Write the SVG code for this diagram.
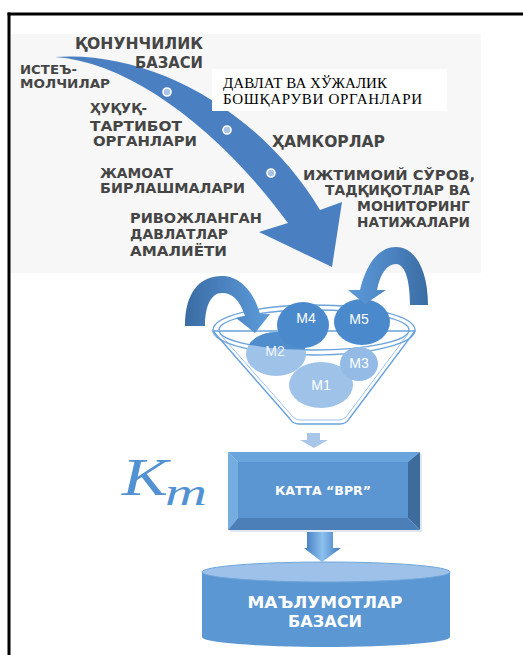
<svg xmlns="http://www.w3.org/2000/svg" width="523" height="655" viewBox="0 0 523 655">
<defs>
<style>
.lbl{font-family:"DejaVu Sans","Liberation Sans",sans-serif;font-weight:bold;fill:#454545;}
.ser{font-family:"Liberation Serif","DejaVu Serif",serif;fill:#000;font-size:15px;}
.mt{font-family:"Liberation Sans","DejaVu Sans",sans-serif;fill:#fff;font-size:14px;}
.wt{font-family:"DejaVu Sans","Liberation Sans",sans-serif;font-weight:bold;fill:#fff;}
.dot{fill:#a9c4e6;stroke:#fff;stroke-width:1.6;}
.rim{fill:none;stroke:#6aa3dc;stroke-width:1.4;}
</style>
<linearGradient id="gL" x1="0" y1="0" x2="1" y2="0">
<stop offset="0" stop-color="#3a6ca3"/><stop offset="0.45" stop-color="#4a82bf"/><stop offset="1" stop-color="#5c9cd9"/>
</linearGradient>
<linearGradient id="gR" x1="0" y1="0" x2="1" y2="0">
<stop offset="0" stop-color="#5c9cd9"/><stop offset="0.55" stop-color="#4a82bf"/><stop offset="1" stop-color="#3a6ca3"/>
</linearGradient>
<linearGradient id="gA" x1="0" y1="0" x2="1" y2="0">
<stop offset="0" stop-color="#3d78bd"/><stop offset="0.5" stop-color="#8cc0ee"/><stop offset="1" stop-color="#3d78bd"/>
</linearGradient>
<clipPath id="rimClip"><ellipse cx="314" cy="330" rx="95" ry="20"/></clipPath>
</defs>

<!-- frame -->
<g id="frame">
<rect x="11" y="34" width="470" height="239" fill="#f7f7f7"/>
<line x1="7.5" y1="14" x2="523" y2="14" stroke="#000" stroke-width="3"/>
<line x1="9" y1="12.5" x2="9" y2="655" stroke="#000" stroke-width="3"/>
</g>

<!-- connectors -->
<g id="connectors">
<path id="big-arrow" d="M55,57 C150,50 260,110 320,210 L342,202 L332,267 L259,232 L288,223 C220,130 130,62 55,57 Z" fill="#4a7fc1"/>
<circle class="dot" cx="167" cy="92" r="4"/>
<circle class="dot" cx="227" cy="130" r="4"/>
<circle class="dot" cx="271" cy="173" r="4"/>
</g>

<g id="box-davlat">
<rect x="212" y="69" width="235" height="42" fill="#fff"/>
<text class="ser" x="223" y="88" textLength="164" lengthAdjust="spacing">ДАВЛАТ ВА ХЎЖАЛИК</text>
<text class="ser" x="223" y="104" textLength="199" lengthAdjust="spacing">БОШҚАРУВИ ОРГАНЛАРИ</text>
</g>

<g id="labels">
<text class="lbl" x="75" y="49" font-size="15" textLength="128" lengthAdjust="spacingAndGlyphs">ҚОНУНЧИЛИК</text>
<text class="lbl" x="135" y="68" font-size="15" textLength="68" lengthAdjust="spacingAndGlyphs">БАЗАСИ</text>
<text class="lbl" x="20" y="74" font-size="12" textLength="57" lengthAdjust="spacingAndGlyphs">ИСТЕЪ-</text>
<text class="lbl" x="20" y="88" font-size="12" textLength="90" lengthAdjust="spacingAndGlyphs">МОЛЧИЛАР</text>
<text class="lbl" x="90" y="113" font-size="14" textLength="57" lengthAdjust="spacingAndGlyphs">ҲУҚУҚ-</text>
<text class="lbl" x="90" y="131" font-size="14" textLength="92" lengthAdjust="spacingAndGlyphs">ТАРТИБОТ</text>
<text class="lbl" x="93" y="146" font-size="14" textLength="104" lengthAdjust="spacingAndGlyphs">ОРГАНЛАРИ</text>
<text class="lbl" x="272" y="147" font-size="15" textLength="113" lengthAdjust="spacingAndGlyphs">ҲАМКОРЛАР</text>
<text class="lbl" x="100" y="178" font-size="14" textLength="73" lengthAdjust="spacingAndGlyphs">ЖАМОАТ</text>
<text class="lbl" x="100" y="193" font-size="14" textLength="145" lengthAdjust="spacingAndGlyphs">БИРЛАШМАЛАРИ</text>
<text class="lbl" x="303" y="180" font-size="14" textLength="172" lengthAdjust="spacingAndGlyphs">ИЖТИМОИЙ СЎРОВ,</text>
<text class="lbl" x="325" y="195" font-size="14" textLength="145" lengthAdjust="spacingAndGlyphs">ТАДҚИҚОТЛАР ВА</text>
<text class="lbl" x="357" y="211" font-size="14" textLength="113" lengthAdjust="spacingAndGlyphs">МОНИТОРИНГ</text>
<text class="lbl" x="357" y="227" font-size="14" textLength="113" lengthAdjust="spacingAndGlyphs">НАТИЖАЛАРИ</text>
<text class="lbl" x="130" y="223" font-size="14" textLength="132" lengthAdjust="spacingAndGlyphs">РИВОЖЛАНГАН</text>
<text class="lbl" x="130" y="239" font-size="14" textLength="98" lengthAdjust="spacingAndGlyphs">ДАВЛАТЛАР</text>
<text class="lbl" x="130" y="256" font-size="14" textLength="97" lengthAdjust="spacingAndGlyphs">АМАЛИЁТИ</text>
</g>

<g id="funnel">
<path d="M213,331 L290,419 Q293,424 299,424 L340,424 Q346,424 349,419 L415,331 Z" fill="#fff" stroke="#6aa3dc" stroke-width="1.4"/>
<path d="M220,334 L293,417 Q296,420 300,420 L339,420 Q343,420 346,417 L408,334" fill="none" stroke="#9ec3ea" stroke-width="1"/>
<ellipse cx="314" cy="330" rx="101" ry="25" fill="#fff" class="rim"/>
<ellipse cx="314" cy="330" rx="95" ry="20" fill="#dfe8f4" class="rim"/>
</g>

<g id="m1"><ellipse cx="321" cy="385" rx="32" ry="23" fill="#9fc3e8"/><text class="mt" x="321" y="390" text-anchor="middle">M1</text></g>
<g id="m3"><ellipse cx="359" cy="364" rx="19" ry="17" fill="#93bbe5"/><text class="mt" x="359" y="368" text-anchor="middle">M3</text></g>
<g id="m2">
<ellipse cx="276" cy="354" rx="30" ry="22" fill="#9fc3e8"/>
<ellipse cx="276" cy="354" rx="30" ry="22" fill="#4f8dcd" clip-path="url(#rimClip)"/>
<text class="mt" x="275" y="356" text-anchor="middle" fill-opacity="0.9">M2</text>
</g>
<g id="m4"><ellipse cx="303" cy="325" rx="26" ry="23" fill="#4a89cc"/><text class="mt" x="306" y="323" text-anchor="middle">M4</text></g>
<g id="m5"><ellipse cx="362" cy="322" rx="28" ry="23" fill="#4a89cc"/><text class="mt" x="359" y="324" text-anchor="middle">M5</text></g>

<g id="loop-arrows">
<path d="M185,326 C185,292 200,276 222,276 C240,276 254,292 260,314 L270,314 L255,333 L236,318 L245,316 C240,300 232,293 222,293 C211,293 205,306 205,326 Z" fill="url(#gL)"/>
<path d="M428,305 C428,268 414,247 396,247 C378,247 366,265 360,290 L348,290 L365,304 L386,290 L377,290 C380,274 387,264 396,264 C405,264 410,280 410,305 Z" fill="url(#gR)"/>
</g>

<g id="flow-arrows">
<path d="M307,433 L320,433 L320,440 L328,440 L314,448 L300,440 L307,440 Z" fill="#a9c6e8"/>
<path d="M307,532 L333,532 L333,548 L341,548 L322,562 L304,548 L307,548 Z" fill="url(#gA)"/>
</g>

<g id="km">
<text x="122" y="495" font-family="'Liberation Serif','DejaVu Serif',serif" font-style="italic" font-size="52" fill="#5292d2" textLength="46" lengthAdjust="spacingAndGlyphs">K</text>
<text x="165" y="505" font-family="'Liberation Serif','DejaVu Serif',serif" font-style="italic" font-size="38" fill="#5292d2" textLength="42" lengthAdjust="spacingAndGlyphs">m</text>
</g>

<g id="bpr">
<rect x="230" y="454" width="192" height="78" fill="#c9d7e8" opacity="0.6"/>
<polygon points="228,452 420,452 408,462 238,462" fill="#6aa4dc"/>
<polygon points="228,452 238,462 238,518 228,530" fill="#76ade0"/>
<polygon points="420,452 420,530 408,518 408,462" fill="#3d6c9c"/>
<polygon points="228,530 420,530 408,518 238,518" fill="#4c7fb7"/>
<rect x="238" y="462" width="170" height="56" fill="#5b96d2"/>
<text class="wt" x="323" y="495" font-size="12" text-anchor="middle" textLength="96" lengthAdjust="spacingAndGlyphs">КАТТА “BPR”</text>
</g>

<g id="database">
<path d="M202,572 L202,637 A124,10 0 0 0 450,637 L450,572 Z" fill="#5b97d3"/>
<ellipse cx="326" cy="572" rx="124" ry="10" fill="#9dc1e8" stroke="#6fa6dc" stroke-width="1"/>
<text class="wt" x="325" y="608" font-size="16" text-anchor="middle" textLength="155" lengthAdjust="spacingAndGlyphs">МАЪЛУМОТЛАР</text>
<text class="wt" x="325" y="627" font-size="16" text-anchor="middle" textLength="74" lengthAdjust="spacingAndGlyphs">БАЗАСИ</text>
</g>
</svg>
